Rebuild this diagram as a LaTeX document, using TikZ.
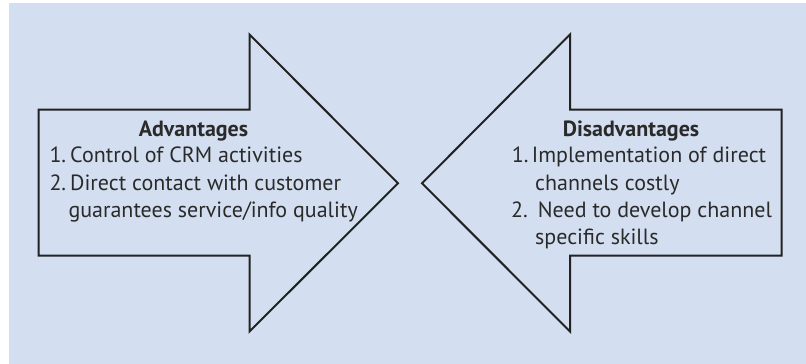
\documentclass[tikz,border=0pt]{standalone}
\usepackage{fontspec}
\setmainfont{PT Sans}
\definecolor{bgblue}{HTML}{D3DFF0}
\definecolor{inkgray}{HTML}{222222}
\definecolor{txtgray}{HTML}{2A2A2A}
\begin{document}
\begin{tikzpicture}[x=1pt,y=-1pt,
  arrowshape/.style={draw=inkgray,line width=2pt,line join=miter,fill=bgblue},
  txt/.style={inner sep=0pt,anchor=base west,text=txtgray,font=\fontsize{22}{26}\selectfont},
  ttl/.style={inner sep=0pt,anchor=base,text=txtgray,font=\fontsize{22}{26}\selectfont\bfseries}]
\useasboundingbox (0,0) rectangle (806,364);
\fill[white] (0,0) rectangle (806,364);
\fill[bgblue] (9,3.3) rectangle (806,364);
% left arrow
\draw[arrowshape] (38.5,109.5) -- (249.5,109.5) -- (249.5,34.5) -- (398,183.3) -- (249.5,331.5) -- (249.5,255.5) -- (38.5,255.5) -- cycle;
% right arrow
\draw[arrowshape] (781.5,109.5) -- (570,109.5) -- (570,34.5) -- (422,183.3) -- (570,331.5) -- (570,255.5) -- (781.5,255.5) -- cycle;
% left text
\node[ttl] (advt) at (193.5,136) {Advantages};
\node[txt] (a1n) at (49.3,162.7) {1.};
\node[txt] (a1) at (70,162.7) {Control of CRM activities};
\node[txt] (a2n) at (49.3,190) {2.};
\node[txt] (a2) at (70,190) {Direct contact with customer};
\node[txt] (a3) at (68.3,217.5) {guarantees service/info quality};
% right text
\node[ttl] (dist) at (631,136) {Disadvantages};
\node[txt] (d1n) at (511.7,162.7) {1.};
\node[txt] (d1) at (531.7,162.7) {Implementation of direct};
\node[txt] (d2) at (535,190) {channels costly};
\node[txt] (d3n) at (511,217.5) {2.};
\node[txt] (d3) at (537.7,217.5) {Need to develop channel};
\node[txt] (d4) at (535,244.3) {specific skills};
\end{tikzpicture}
\end{document}
